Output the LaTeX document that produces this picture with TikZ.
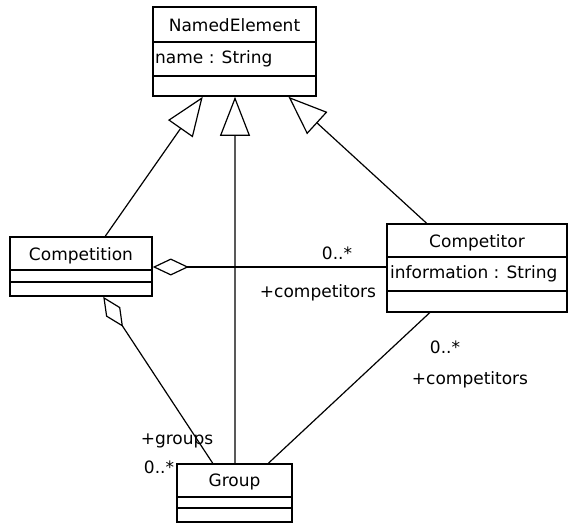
\documentclass[tikz,border=0pt]{standalone}
\usepackage{fontspec}
\setmainfont{DejaVu Sans}
\usetikzlibrary{arrows.meta,calc}
\begin{document}
\begin{tikzpicture}[x=1pt,y=-1pt,
  box/.style={draw,line width=1.6pt,inner sep=0pt},
  div/.style={line width=1.6pt},
  conn/.style={line width=1.2pt},
  gen/.style={conn,-{Triangle[open,length=39pt,width=30pt]}},
  agg/.style={conn,-{Diamond[open,length=36pt,width=17pt]}},
  txt/.style={font=\fontsize{17}{19}\selectfont,inner sep=0pt}]
\useasboundingbox (0,0) rectangle (570,524);
% classes
\node[box,minimum width=163pt,minimum height=89pt] (ne) at (234.5,51.5) {};
\draw[div] (153,42) -- (316,42) (153,76) -- (316,76);
\node[txt] (neT) at (234.5,25) {NamedElement};
\node[txt,anchor=west] (neA) at (155,59) {name : String};

\node[box,minimum width=142pt,minimum height=59pt] (cn) at (81,266.5) {};
\draw[div] (10,270) -- (152,270) (10,282) -- (152,282);
\node[txt] (cnT) at (81,256) {Competition};

\node[box,minimum width=180pt,minimum height=88pt] (cp) at (477,268) {};
\draw[div] (387,257) -- (567,257) (387,291) -- (567,291);
\node[txt] (cpT) at (477,243) {Competitor};
\node[txt,anchor=west] (cpA) at (390,274) {information : String};

\node[box,minimum width=115pt,minimum height=58pt] (gr) at (234.5,493) {};
\draw[div] (177,497) -- (292,497) (177,508) -- (292,508);
\node[txt] (grT) at (234.5,482) {Group};

% generalizations
\draw[gen] ($(cn.north west)!0.669!(cn.north east)$) -- ($(ne.south west)!0.307!(ne.south east)$);
\draw[gen] ($(gr.north west)!0.504!(gr.north east)$) -- ($(ne.south west)!0.503!(ne.south east)$);
\draw[gen] ($(cp.north west)!0.222!(cp.north east)$) -- ($(ne.south west)!0.828!(ne.south east)$);
% aggregations
\draw[agg] (cp.west |- 0,267) -- (cn.east |- 0,267);
\draw[agg] ($(gr.north west)!0.313!(gr.north east)$) -- ($(cn.south west)!0.655!(cn.south east)$);
% association
\draw[conn] ($(cp.south west)!0.239!(cp.south east)$) -- ($(gr.north west)!0.791!(gr.north east)$);
% labels
\node[txt] (l1) at (337,253) {0..*};
\node[txt] (l2) at (318,293) {+competitors};
\node[txt] (l3) at (445,347) {0..*};
\node[txt] (l4) at (470,380) {+competitors};
\node[txt] (l5) at (177,441) {+groups};
\node[txt] (l6) at (159,467) {0..*};
\end{tikzpicture}
\end{document}
